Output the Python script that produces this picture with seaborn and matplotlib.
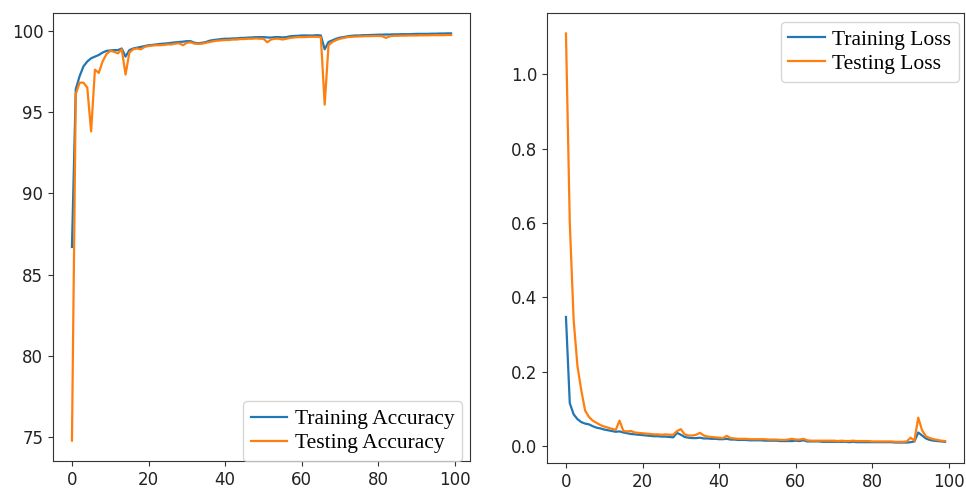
import numpy as np
import pandas as pd
import matplotlib
matplotlib.use("Agg")
import matplotlib.pyplot as plt
import seaborn as sns

# -------------------------------------------------------------
# data (100 epochs)
# -------------------------------------------------------------
epochs = list(range(100))

train_acc = [
    86.7, 96.4, 97.2, 97.8, 98.1, 98.3, 98.4, 98.5, 98.65, 98.75,
    98.78, 98.8, 98.8, 98.9, 98.4, 98.8, 98.9, 98.95, 99.0, 99.05,
    99.1, 99.12, 99.15, 99.18, 99.2, 99.22, 99.25, 99.28, 99.3, 99.32,
    99.35, 99.35, 99.25, 99.22, 99.25, 99.3, 99.38, 99.42, 99.45, 99.48,
    99.5, 99.5, 99.52, 99.52, 99.55, 99.55, 99.57, 99.58, 99.6, 99.6,
    99.6, 99.58, 99.57, 99.6, 99.6, 99.58, 99.6, 99.65, 99.67, 99.68,
    99.7, 99.7, 99.7, 99.7, 99.72, 99.7, 98.85, 99.3, 99.4, 99.5,
    99.57, 99.6, 99.65, 99.68, 99.7, 99.7, 99.72, 99.72, 99.73, 99.74,
    99.75, 99.75, 99.76, 99.76, 99.77, 99.77, 99.78, 99.78, 99.78, 99.79,
    99.8, 99.8, 99.8, 99.8, 99.81, 99.81, 99.82, 99.82, 99.83, 99.83,
]
test_acc = [
    74.8, 96.1, 96.8, 96.8, 96.5, 93.8, 97.6, 97.4, 98.1, 98.55,
    98.75, 98.7, 98.6, 98.85, 97.3, 98.65, 98.85, 98.9, 98.85, 99.0,
    99.05, 99.08, 99.1, 99.1, 99.12, 99.15, 99.15, 99.2, 99.22, 99.1,
    99.25, 99.28, 99.2, 99.18, 99.2, 99.25, 99.3, 99.35, 99.38, 99.4,
    99.42, 99.42, 99.45, 99.45, 99.48, 99.48, 99.5, 99.5, 99.52, 99.5,
    99.5, 99.28, 99.45, 99.5, 99.5, 99.45, 99.5, 99.55, 99.58, 99.6,
    99.6, 99.6, 99.62, 99.62, 99.62, 99.6, 95.45, 99.1, 99.3, 99.42,
    99.5, 99.55, 99.6, 99.62, 99.63, 99.64, 99.65, 99.66, 99.66, 99.67,
    99.67, 99.66, 99.55, 99.65, 99.68, 99.68, 99.69, 99.69, 99.7, 99.7,
    99.7, 99.71, 99.71, 99.71, 99.72, 99.72, 99.72, 99.72, 99.73, 99.73,
]
train_loss = [
    0.347, 0.115, 0.085, 0.072, 0.064, 0.060, 0.058, 0.053, 0.049, 0.047,
    0.044, 0.042, 0.040, 0.038, 0.039, 0.036, 0.034, 0.032, 0.031, 0.030,
    0.029, 0.028, 0.027, 0.026, 0.026, 0.025, 0.025, 0.024, 0.023, 0.035,
    0.030, 0.024, 0.022, 0.021, 0.021, 0.022, 0.020, 0.020, 0.019, 0.019,
    0.018, 0.018, 0.019, 0.017, 0.017, 0.016, 0.016, 0.016, 0.015, 0.015,
    0.015, 0.015, 0.014, 0.014, 0.014, 0.014, 0.013, 0.013, 0.013, 0.013,
    0.014, 0.013, 0.015, 0.012, 0.012, 0.012, 0.012, 0.011, 0.011, 0.011,
    0.011, 0.011, 0.011, 0.011, 0.010, 0.011, 0.010, 0.010, 0.010, 0.010,
    0.010, 0.010, 0.010, 0.010, 0.010, 0.010, 0.009, 0.009, 0.009, 0.009,
    0.010, 0.012, 0.036, 0.028, 0.020, 0.016, 0.014, 0.013, 0.012, 0.011,
]
test_loss = [
    1.11, 0.60, 0.34, 0.215, 0.15, 0.095, 0.078, 0.068, 0.062, 0.056,
    0.052, 0.049, 0.046, 0.043, 0.068, 0.040, 0.039, 0.040, 0.036, 0.035,
    0.034, 0.033, 0.032, 0.031, 0.031, 0.030, 0.031, 0.030, 0.030, 0.040,
    0.045, 0.031, 0.028, 0.028, 0.030, 0.035, 0.028, 0.025, 0.024, 0.023,
    0.022, 0.021, 0.027, 0.021, 0.020, 0.019, 0.019, 0.019, 0.018, 0.018,
    0.018, 0.018, 0.018, 0.017, 0.017, 0.017, 0.016, 0.016, 0.017, 0.019,
    0.017, 0.017, 0.019, 0.015, 0.014, 0.014, 0.014, 0.014, 0.014, 0.014,
    0.014, 0.013, 0.014, 0.013, 0.013, 0.014, 0.013, 0.013, 0.013, 0.013,
    0.012, 0.012, 0.012, 0.012, 0.012, 0.012, 0.011, 0.011, 0.011, 0.012,
    0.022, 0.014, 0.076, 0.042, 0.026, 0.021, 0.018, 0.016, 0.014, 0.013,
]

BLUE = "#1f77b4"
ORANGE = "#ff7f0e"

# -------------------------------------------------------------
# figure
# -------------------------------------------------------------
fig = plt.figure(figsize=(9.66, 4.9), dpi=100)
ax_acc = fig.add_axes([53 / 966, 29 / 490, 417 / 966, 448 / 490])
ax_loss = fig.add_axes([547 / 966, 27 / 490, 417 / 966, 450 / 490])

acc_df = pd.DataFrame({"epoch": epochs, "train": train_acc, "test": test_acc})
loss_df = pd.DataFrame({"epoch": epochs, "train": train_loss, "test": test_loss})

sns.lineplot(data=acc_df, x="epoch", y="train", ax=ax_acc, color=BLUE,
             linewidth=1.6, label="Training Accuracy")
sns.lineplot(data=acc_df, x="epoch", y="test", ax=ax_acc, color=ORANGE,
             linewidth=1.6, label="Testing Accuracy")

sns.lineplot(data=loss_df, x="epoch", y="train", ax=ax_loss, color=BLUE,
             linewidth=1.6, label="Training Loss")
sns.lineplot(data=loss_df, x="epoch", y="test", ax=ax_loss, color=ORANGE,
             linewidth=1.6, label="Testing Loss")

legend_font = {"family": "Liberation Serif", "size": 15.5}
for ax in (ax_acc, ax_loss):
    ax.set_xlabel("")
    ax.set_ylabel("")
    ax.set_xticks([0, 20, 40, 60, 80, 100])
    ax.tick_params(labelsize=12, colors="#333333", labelcolor="#222222")
    for sp in ax.spines.values():
        sp.set_color("#333333")

ax_acc.set_yticks([75, 80, 85, 90, 95, 100])
ax_loss.set_yticks([0.0, 0.2, 0.4, 0.6, 0.8, 1.0])

legend_kw = dict(prop=legend_font, handlelength=1.7, handletextpad=0.35,
                 labelspacing=0.2, borderpad=0.35, borderaxespad=0.0)
ax_acc.legend(loc="lower right", bbox_to_anchor=(1 - 8 / 417, 0.0), **legend_kw)
ax_loss.legend(loc="upper right", bbox_to_anchor=(1 - 5 / 417, 1 - 9 / 450),
               **legend_kw)

fig.savefig("out.png", dpi=100)
